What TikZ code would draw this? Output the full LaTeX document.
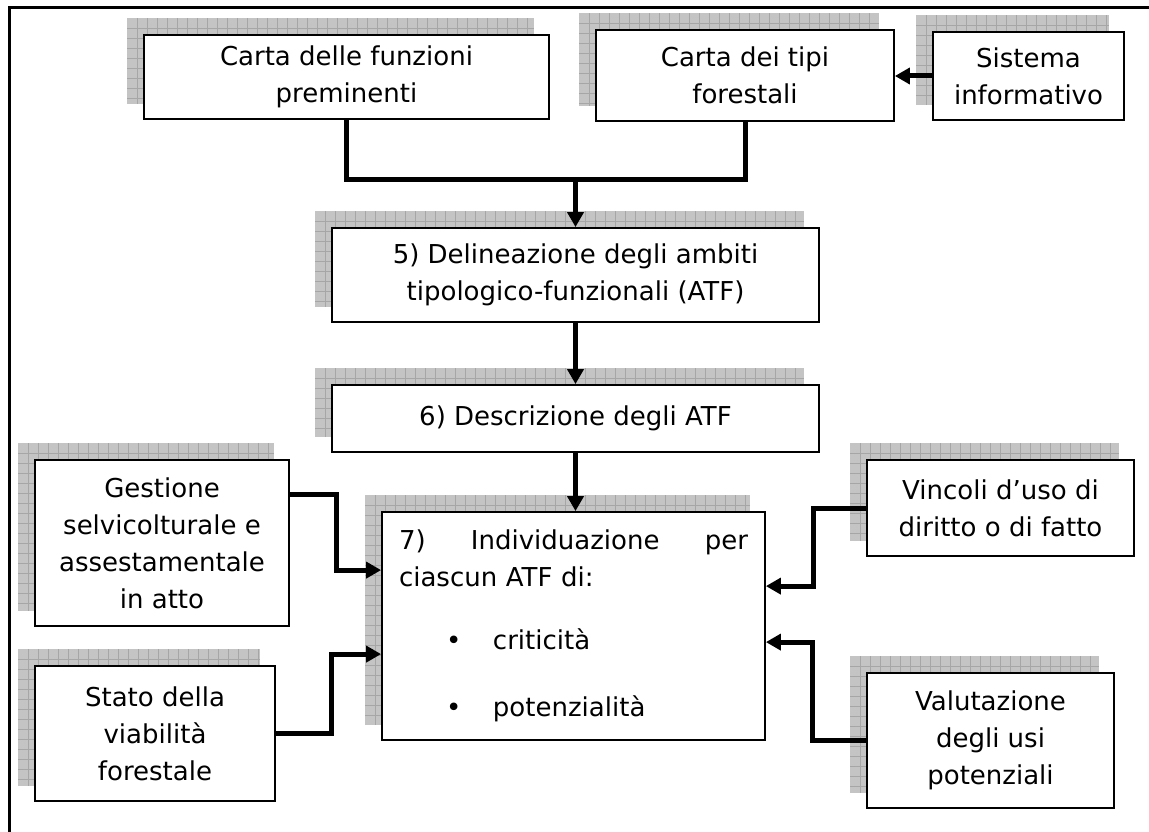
\documentclass[tikz,border=0pt]{standalone}
\usepackage{fontspec}
\setmainfont{DejaVu Sans}
\usetikzlibrary{arrows.meta,calc}
\pgfdeclarelayer{background}
\pgfsetlayers{background,main}

\definecolor{shfill}{HTML}{C4C4C4}
\definecolor{shline}{HTML}{A6A6A6}

% hatched drop shadow behind a box, shifted up and to the left
\newcommand\gridshadow[1]{%
  \begin{scope}
    \clip ($(#1.north west)+(-16,-16)$) rectangle ($(#1.south east)+(-16,-16)$);
    \fill[shfill] ($(#1.north west)+(-16,-16)$) rectangle ($(#1.south east)+(-16,-16)$);
    \begin{scope}[shift={($(#1.north west)+(-16,-16)$)}]
      \foreach \k in {10,20,...,500} {
        \draw[shline,line width=0.8pt] (\k,0) -- (\k,300);
        \draw[shline,line width=0.8pt] (0,\k) -- (500,\k);
      }
    \end{scope}
  \end{scope}}

\tikzset{
  box/.style={draw, line width=1.8pt, fill=white, align=center, inner sep=0pt,
    font=\fontsize{26}{37}\selectfont},
  conn/.style={line width=5pt, miter limit=10},
  arr/.style={conn, -{Triangle[length=15pt,width=16pt]}},
}

\begin{document}
\begin{tikzpicture}[x=1pt, y=-1pt]
\useasboundingbox (0,0) rectangle (1149,832);

% outer frame (top and left edges)
\draw[line width=3pt] (9,832) -- (9,8) -- (1149,8);

% boxes
\node[box, minimum width=405, minimum height=84] (A) at (346.5,77) {Carta delle funzioni\\preminenti};
\node[box, minimum width=298, minimum height=91] (B) at (745,75.5) {Carta dei tipi\\forestali};
\node[box, minimum width=191, minimum height=88] (C) at (1028.5,76) {Sistema\\informativo};
\node[box, minimum width=487, minimum height=94] (D5) at (575.5,275) {5) Delineazione degli ambiti\\tipologico-funzionali (ATF)};
\node[box, minimum width=487, minimum height=67] (D6) at (575.5,418.5) {6) Descrizione degli ATF};
\node[box, minimum width=383, minimum height=228, text width=349pt, align=left] (D7) at (573.5,626)
  {\makebox[349pt][l]{7)\hfill Individuazione\hfill per}\\
   ciascun ATF di:\\[26pt]
   \makebox[94pt][l]{\hspace*{47pt}•}criticità\\[30pt]
   \makebox[94pt][l]{\hspace*{47pt}•}potenzialità};
\node[box, minimum width=254, minimum height=166] (G) at (162,543) {Gestione\\selvicolturale e\\assestamentale\\in atto};
\node[box, minimum width=240, minimum height=135] (S) at (155,733.5) {Stato della\\viabilità\\forestale};
\node[box, minimum width=267, minimum height=96] (V) at (1000.5,508) {Vincoli d’uso di\\diritto o di fatto};
\node[box, minimum width=247, minimum height=135] (U) at (990.5,740.5) {Valutazione\\degli usi\\potenziali};

\begin{pgfonlayer}{background}
  \foreach \n in {A,B,C,D5,D6,D7,G,S,V,U} {\gridshadow{\n}}
\end{pgfonlayer}

% connectors
\coordinate (j) at ($(D5.north)+(0,-48)$);
\draw[conn] (A.south) |- (j) -| (B.south);
\draw[arr] (j) -- (D5.north);
\draw[arr] (C.west) -- (C.west -| B.east);
\draw[arr] (D5.south) -- (D6.north);
\draw[arr] (D6.south) -- (D6.south |- D7.north);
\draw[arr] ($(G.north east)+(0,35)$) -- ++(47,0) |- ($(D7.north west)+(0,59)$);
\draw[arr] (S.east) -- ++(56,0) |- ($(D7.north west)+(0,143)$);
\draw[arr] (V.west) -- ++(-53,0) |- ($(D7.north east)+(0,75)$);
\draw[arr] (U.west) -- ++(-54,0) |- ($(D7.north east)+(0,131)$);
\end{tikzpicture}
\end{document}
